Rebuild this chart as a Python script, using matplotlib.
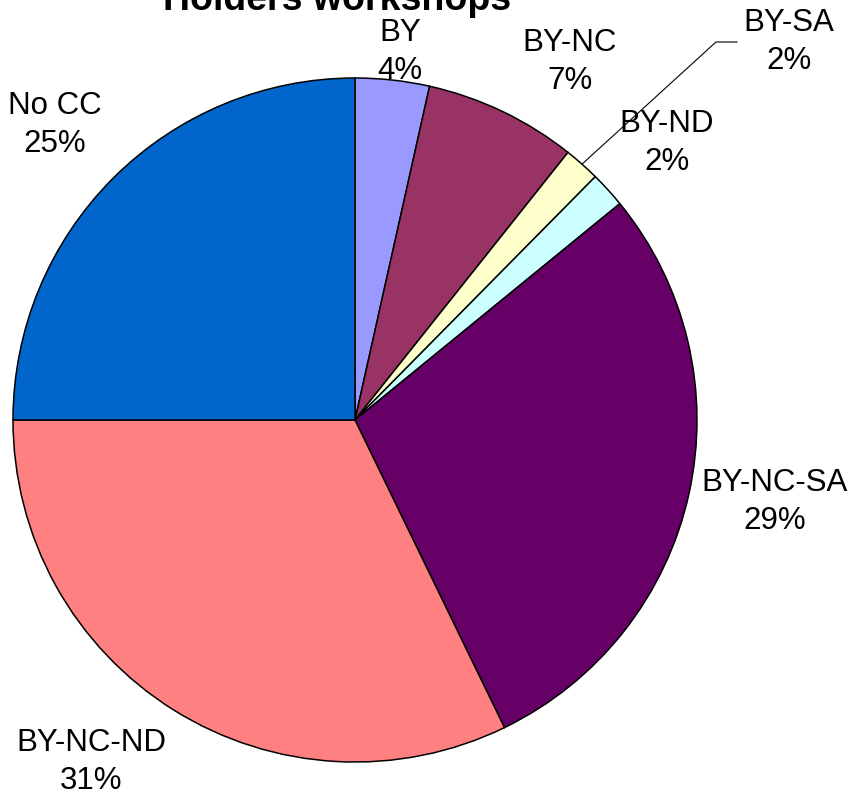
import matplotlib
matplotlib.use("Agg")
import matplotlib.pyplot as plt
import numpy as np

plt.rcParams['font.family'] = ['Liberation Sans', 'DejaVu Sans']

# Data
categories = ["BY", "BY-NC", "BY-SA", "BY-ND", "BY-NC-SA", "BY-NC-ND", "No CC"]
shares = [3.5, 7.2, 1.7, 1.7, 28.7, 32.2, 25.0]          # slice sizes
pct_labels = ["4%", "7%", "2%", "2%", "29%", "31%", "25%"]  # percentages as printed
colors = ["#9999FF", "#993366", "#FFFFCC", "#CCFFFF", "#660066", "#FF8080", "#0066CC"]
title = "Holders workshops"

# Layout (pixel geometry of the reference)
W, H = 853, 796
CX, CY, R = 355, 420, 342
label_px = [(400, 52), (570, 62), (789, 42), (667, 143), (775, 502), (91, 762), (55, 125)]

def to_data(px, py):
    return (px - CX) / R, (CY - py) / R

fig = plt.figure(figsize=(W / 100, H / 100), dpi=100)
ax = fig.add_axes([0, 0, 1, 1])

wedges, _ = ax.pie(shares, colors=colors, startangle=90, counterclock=False,
                   radius=1.0, center=(0, 0), frame=True,
                   wedgeprops=dict(edgecolor='black', linewidth=1.1))
ax.set_xlim(-CX / R, (W - CX) / R)
ax.set_ylim((CY - H) / R, CY / R)
ax.set_aspect('auto')
ax.axis('off')

for name, pct, (px, py) in zip(categories, pct_labels, label_px):
    x, y = to_data(px, py)
    ax.text(x, y, f"{name}\n{pct}", ha='center', va='center', fontsize=22.5,
            linespacing=1.33)

# leader line for BY-SA
w = wedges[2]
mid = np.deg2rad((w.theta1 + w.theta2) / 2)
ex, ey = np.cos(mid), np.sin(mid)
elbow = to_data(716, 42)
end = to_data(737, 42)
ax.plot([ex, elbow[0], end[0]], [ey, elbow[1], end[1]], color='black', lw=0.8)

tx, ty = to_data(337, 10)
ax.text(tx, ty, title, ha='center', va='baseline', fontsize=27, fontweight='bold')

fig.savefig("out.png", dpi=100)
